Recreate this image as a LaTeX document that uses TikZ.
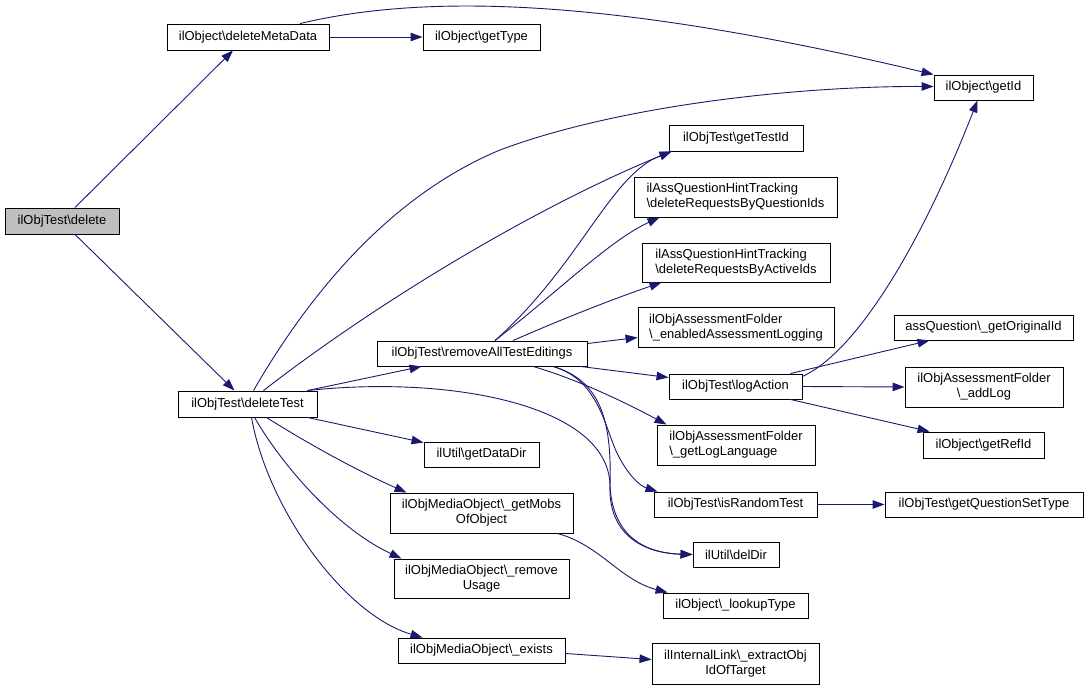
\documentclass[tikz,border=0pt]{standalone}
\usepackage{fontspec}
\setmainfont{Liberation Sans}
\usetikzlibrary{arrows.meta,calc}
\definecolor{edgeblue}{HTML}{191970}
\definecolor{selgray}{HTML}{BFBFBF}
\tikzset{
  box/.style={draw=black, fill=white, line width=0.9bp, inner sep=0pt,
    font=\fontsize{13}{15}\selectfont},
  lbox/.style={box, align=left},
  cbox/.style={box, align=center},
  e/.style={draw=edgeblue, line width=0.9bp, -{Triangle[length=12bp,width=8.5bp]}}
}
\begin{document}
\begin{tikzpicture}[x=1bp,y=-1bp]
\useasboundingbox (0,0) rectangle (1088,690);
% nodes
\node[box, fill=selgray, minimum width=114bp, minimum height=26bp] (del) at (62,221) {ilObjTest\textbackslash delete};
\node[box, minimum width=162bp, minimum height=26bp] (dmd) at (248,37) {ilObject\textbackslash deleteMetaData};
\node[box, minimum width=117bp, minimum height=26bp] (gt) at (481.5,37) {ilObject\textbackslash getType};
\node[box, minimum width=99bp, minimum height=25bp] (gid) at (983.5,87.5) {ilObject\textbackslash getId};
\node[box, minimum width=139bp, minimum height=26bp] (dt) at (247.5,404) {ilObjTest\textbackslash deleteTest};
\node[box, minimum width=134bp, minimum height=26bp] (gti) at (736,138) {ilObjTest\textbackslash getTestId};
\node[lbox, minimum width=203bp, minimum height=40bp] (drq) at (735.5,197) {ilAssQuestionHintTracking\\\textbackslash deleteRequestsByQuestionIds};
\node[lbox, minimum width=188bp, minimum height=39bp] (dra) at (736,262.5) {ilAssQuestionHintTracking\\\textbackslash deleteRequestsByActiveIds};
\node[lbox, minimum width=196bp, minimum height=40bp] (eal) at (736,327.5) {ilObjAssessmentFolder\\\textbackslash\_enabledAssessmentLogging};
\node[box, minimum width=210bp, minimum height=25bp] (rat) at (482,353.5) {ilObjTest\textbackslash removeAllTestEditings};
\node[box, minimum width=133bp, minimum height=25bp] (la) at (735.5,386.5) {ilObjTest\textbackslash logAction};
\node[lbox, minimum width=158bp, minimum height=40bp] (gll) at (736,445) {ilObjAssessmentFolder\\\textbackslash\_getLogLanguage};
\node[box, minimum width=179bp, minimum height=25bp] (goi) at (983.5,327.5) {assQuestion\textbackslash\_getOriginalId};
\node[cbox, minimum width=158bp, minimum height=40bp] (al) at (984,387) {ilObjAssessmentFolder\\\textbackslash\_addLog};
\node[box, minimum width=121bp, minimum height=26bp] (grf) at (983.5,445) {ilObject\textbackslash getRefId};
\node[box, minimum width=115bp, minimum height=25bp] (gdd) at (481.5,454.5) {ilUtil\textbackslash getDataDir};
\node[cbox, minimum width=183bp, minimum height=40bp] (gmo) at (481.5,513) {ilObjMediaObject\textbackslash\_getMobs\\OfObject};
\node[cbox, minimum width=175bp, minimum height=39bp] (ru) at (481.5,578.5) {ilObjMediaObject\textbackslash\_remove\\Usage};
\node[box, minimum width=167bp, minimum height=25bp] (ex) at (481.5,650.5) {ilObjMediaObject\textbackslash\_exists};
\node[box, minimum width=163bp, minimum height=25bp] (irt) at (735.5,504.5) {ilObjTest\textbackslash isRandomTest};
\node[box, minimum width=198bp, minimum height=25bp] (gqs) at (984,504.5) {ilObjTest\textbackslash getQuestionSetType};
\node[box, minimum width=86bp, minimum height=25bp] (dd) at (736,554.5) {ilUtil\textbackslash delDir};
\node[box, minimum width=145bp, minimum height=25bp] (lt) at (735.5,605.5) {ilObject\textbackslash\_lookupType};
\node[cbox, minimum width=167bp, minimum height=41bp] (eo) at (735.5,663.5) {ilInternalLink\textbackslash\_extractObj\\IdOfTarget};
% edges
\draw[e] ($(del.north)+(13,0)$) -- ($(dmd.south)+(-15,0)$);
\draw[e] ($(del.south)+(13,0)$) -- ($(dt.north)+(-13,0)$);
\draw[e] (dmd.east) -- (gt.west);
\draw[e] ($(dmd.north)+(52,0)$) .. controls (420,-5) and (600,-5) .. (gid.north west);
\draw[e] ($(dt.north)+(6,0)$) .. controls (300,310) and (380,200) .. (500,150) .. controls (620,105) and (800,86) .. ($(gid.west)+(0,-1)$);
\draw[e] ($(dt.north)+(16,0)$) .. controls (380,300) and (540,205) .. ($(gti.south west)+(3,0)$);
\draw[e] ($(dt.north east)+(-10,0)$) -- ($(rat.south west)+(45,0)$);
\draw[e] ($(dt.north east)+(-10,0)$) .. controls (450,375) and (608,405) .. (610,485) .. controls (612,532) and (640,553) .. (dd.west);
\draw[e] ($(dt.south east)+(-10,0)$) -- ($(gdd.north west)+(0,1)$);
\draw[e] ($(dt.south)+(19,0)$) .. controls (310,445) and (360,472) .. ($(gmo.north west)+(17,0)$);
\draw[e] ($(dt.south)+(7,0)$) .. controls (285,470) and (340,530) .. ($(ru.north west)+(8,0)$);
\draw[e] ($(dt.south)+(4,0)$) .. controls (268,510) and (345,615) .. ($(ex.north west)+(25,0)$);
\draw[e] ($(rat.north)+(13,0)$) .. controls (580,265) and (610,175) .. ($(gti.south west)+(3,0)$);
\draw[e] ($(rat.north)+(13,0)$) .. controls (560,290) and (610,240) .. ($(drq.south west)+(26,0)$);
\draw[e] ($(rat.north)+(31,0)$) .. controls (560,320) and (610,300) .. ($(dra.south west)+(20,0)$);
\draw[e] ($(rat.east)+(0,-10)$) -- ($(eal.west)+(0,10)$);
\draw[e] ($(rat.south east)+(-7,0)$) -- ($(la.west)+(0,-9)$);
\draw[e] ($(rat.south)+(51,0)$) .. controls (580,380) and (630,405) .. ($(gll.north west)+(10,0)$);
\draw[e] ($(rat.south)+(71,0)$) .. controls (600,380) and (605,430) .. (618,455) .. controls (628,475) and (640,486) .. ($(irt.north west)+(4,0)$);
\draw[e] ($(rat.south)+(71,0)$) .. controls (600,380) and (612,420) .. (610,485) .. controls (608,532) and (640,553) .. (dd.west);
\draw[e] ($(la.east)+(0,-10)$) .. controls (860,350) and (925,235) .. ($(gid.south)+(-6,0)$);
\draw[e] ($(la.north east)+(-12,0)$) -- ($(goi.south west)+(36,0)$);
\draw[e] (la.east) -- (al.west);
\draw[e] ($(la.south east)+(-12,0)$) -- ($(grf.north west)+(7,0)$);
\draw[e] (irt.east) -- (gqs.west);
\draw[e] ($(gmo.south east)+(-16,0)$) .. controls (600,545) and (620,580) .. ($(lt.north west)+(5,0)$);
\draw[e] ($(ex.east)+(0,3)$) -- ($(eo.west)+(0,-4)$);
\end{tikzpicture}
\end{document}
